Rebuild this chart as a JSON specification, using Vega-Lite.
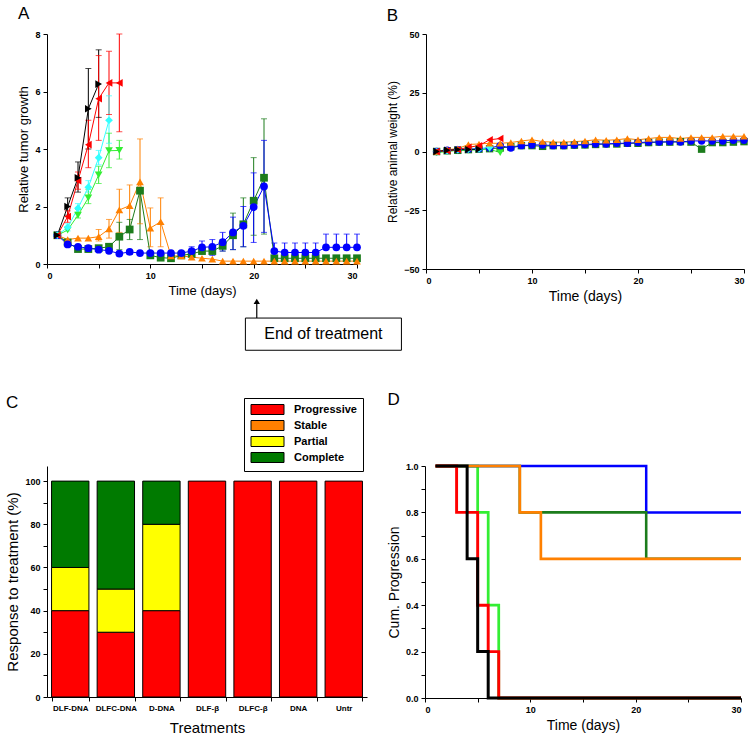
{
"$schema": "https://vega.github.io/schema/vega-lite/v6.json",
"background": "white",
"padding": 5,
"config": {
  "view": {"stroke": null},
  "font": "Liberation Sans",
  "axis": {"domainColor": "black", "tickColor": "black", "labelColor": "black", "titleColor": "black", "grid": false, "tickSize": 4, "labelFont": "Liberation Sans", "labelFontWeight": "bold", "labelFontSize": 9, "titleFont": "Liberation Sans", "titleFontWeight": "normal", "titleFontSize": 13, "labelPadding": 3},
  "title": {"font": "Liberation Sans", "fontSize": 17, "fontWeight": "normal", "anchor": "start", "frame": "bounds", "color": "black"}
},
"datasets": {
  "growth": [
    {"g":"DLF-DNA","day":1,"v":1.0},{"g":"DLF-DNA","day":2,"v":0.75},{"g":"DLF-DNA","day":3,"v":0.52},{"g":"DLF-DNA","day":4,"v":0.52},{"g":"DLF-DNA","day":5,"v":0.55},{"g":"DLF-DNA","day":6,"v":0.6},{"g":"DLF-DNA","day":7,"v":0.95},{"g":"DLF-DNA","day":8,"v":1.2},{"g":"DLF-DNA","day":9,"v":2.55},{"g":"DLF-DNA","day":10,"v":0.3},{"g":"DLF-DNA","day":11,"v":0.22},{"g":"DLF-DNA","day":12,"v":0.2},{"g":"DLF-DNA","day":13,"v":0.3},{"g":"DLF-DNA","day":14,"v":0.35},{"g":"DLF-DNA","day":15,"v":0.45},{"g":"DLF-DNA","day":16,"v":0.45},{"g":"DLF-DNA","day":17,"v":0.63},{"g":"DLF-DNA","day":18,"v":1.0},{"g":"DLF-DNA","day":19,"v":1.38},{"g":"DLF-DNA","day":20,"v":2.2},{"g":"DLF-DNA","day":21,"v":3.0},{"g":"DLF-DNA","day":22,"v":0.2},{"g":"DLF-DNA","day":23,"v":0.2},{"g":"DLF-DNA","day":24,"v":0.2},{"g":"DLF-DNA","day":25,"v":0.2},{"g":"DLF-DNA","day":26,"v":0.2},{"g":"DLF-DNA","day":27,"v":0.2},{"g":"DLF-DNA","day":28,"v":0.2},{"g":"DLF-DNA","day":29,"v":0.2},{"g":"DLF-DNA","day":30,"v":0.2},
    {"g":"D-DNA","day":1,"v":1.0},{"g":"D-DNA","day":2,"v":0.85},{"g":"D-DNA","day":3,"v":0.9},{"g":"D-DNA","day":4,"v":0.9},{"g":"D-DNA","day":5,"v":0.95},{"g":"D-DNA","day":6,"v":1.22},{"g":"D-DNA","day":7,"v":1.88},{"g":"D-DNA","day":8,"v":2.03},{"g":"D-DNA","day":9,"v":2.86},{"g":"D-DNA","day":10,"v":1.25},{"g":"D-DNA","day":11,"v":1.47},{"g":"D-DNA","day":12,"v":0.28},{"g":"D-DNA","day":13,"v":0.28},{"g":"D-DNA","day":14,"v":0.24},{"g":"D-DNA","day":15,"v":0.2},{"g":"D-DNA","day":16,"v":0.17},{"g":"D-DNA","day":17,"v":0.1},{"g":"D-DNA","day":18,"v":0.1},{"g":"D-DNA","day":19,"v":0.1},{"g":"D-DNA","day":20,"v":0.1},{"g":"D-DNA","day":21,"v":0.1},{"g":"D-DNA","day":22,"v":0.1},{"g":"D-DNA","day":23,"v":0.1},{"g":"D-DNA","day":24,"v":0.1},{"g":"D-DNA","day":25,"v":0.1},{"g":"D-DNA","day":26,"v":0.1},{"g":"D-DNA","day":27,"v":0.1},{"g":"D-DNA","day":28,"v":0.1},{"g":"D-DNA","day":29,"v":0.1},{"g":"D-DNA","day":30,"v":0.1},
    {"g":"DLFC-DNA","day":1,"v":1.0},{"g":"DLFC-DNA","day":2,"v":0.68},{"g":"DLFC-DNA","day":3,"v":0.6},{"g":"DLFC-DNA","day":4,"v":0.55},{"g":"DLFC-DNA","day":5,"v":0.5},{"g":"DLFC-DNA","day":6,"v":0.46},{"g":"DLFC-DNA","day":7,"v":0.36},{"g":"DLFC-DNA","day":8,"v":0.42},{"g":"DLFC-DNA","day":9,"v":0.38},{"g":"DLFC-DNA","day":10,"v":0.38},{"g":"DLFC-DNA","day":11,"v":0.38},{"g":"DLFC-DNA","day":12,"v":0.38},{"g":"DLFC-DNA","day":13,"v":0.38},{"g":"DLFC-DNA","day":14,"v":0.45},{"g":"DLFC-DNA","day":15,"v":0.58},{"g":"DLFC-DNA","day":16,"v":0.6},{"g":"DLFC-DNA","day":17,"v":0.76},{"g":"DLFC-DNA","day":18,"v":1.1},{"g":"DLFC-DNA","day":19,"v":1.33},{"g":"DLFC-DNA","day":20,"v":1.98},{"g":"DLFC-DNA","day":21,"v":2.7},{"g":"DLFC-DNA","day":22,"v":0.45},{"g":"DLFC-DNA","day":23,"v":0.4},{"g":"DLFC-DNA","day":24,"v":0.4},{"g":"DLFC-DNA","day":25,"v":0.4},{"g":"DLFC-DNA","day":26,"v":0.4},{"g":"DLFC-DNA","day":27,"v":0.58},{"g":"DLFC-DNA","day":28,"v":0.58},{"g":"DLFC-DNA","day":29,"v":0.58},{"g":"DLFC-DNA","day":30,"v":0.58},
    {"g":"DLF-β","day":1,"v":1.0},{"g":"DLF-β","day":2,"v":1.18},{"g":"DLF-β","day":3,"v":1.7},{"g":"DLF-β","day":4,"v":2.3},{"g":"DLF-β","day":5,"v":3.1},{"g":"DLF-β","day":6,"v":3.94},{"g":"DLF-β","day":7,"v":3.95},
    {"g":"DLFC-β","day":1,"v":1.0},{"g":"DLFC-β","day":2,"v":1.28},{"g":"DLFC-β","day":3,"v":1.94},{"g":"DLFC-β","day":4,"v":2.67},{"g":"DLFC-β","day":5,"v":3.7},{"g":"DLFC-β","day":6,"v":5.0},
    {"g":"DNA","day":1,"v":1.0},{"g":"DNA","day":2,"v":1.65},{"g":"DNA","day":3,"v":2.9},{"g":"DNA","day":4,"v":4.15},{"g":"DNA","day":5,"v":5.75},{"g":"DNA","day":6,"v":6.3},{"g":"DNA","day":7,"v":6.3},
    {"g":"Untr","day":1,"v":1.0},{"g":"Untr","day":2,"v":2.0},{"g":"Untr","day":3,"v":3.0},{"g":"Untr","day":4,"v":5.4},{"g":"Untr","day":5,"v":6.26}
  ],
  "growthErr": [
    {"g":"Untr","day":2,"lo":1.7,"hi":2.3},{"g":"Untr","day":3,"lo":2.5,"hi":3.55},{"g":"Untr","day":4,"lo":4.0,"hi":6.8},{"g":"Untr","day":5,"lo":5.1,"hi":7.45},
    {"g":"DNA","day":2,"lo":1.45,"hi":1.85},{"g":"DNA","day":3,"lo":2.6,"hi":3.2},{"g":"DNA","day":4,"lo":3.35,"hi":5.0},{"g":"DNA","day":5,"lo":4.3,"hi":7.25},{"g":"DNA","day":6,"lo":5.2,"hi":7.4},{"g":"DNA","day":7,"lo":4.6,"hi":8.0},
    {"g":"DLFC-β","day":2,"lo":1.15,"hi":1.4},{"g":"DLFC-β","day":3,"lo":1.75,"hi":2.1},{"g":"DLFC-β","day":4,"lo":2.5,"hi":2.9},{"g":"DLFC-β","day":5,"lo":3.45,"hi":3.95},{"g":"DLFC-β","day":6,"lo":4.2,"hi":5.85},
    {"g":"DLF-β","day":3,"lo":1.6,"hi":1.9},{"g":"DLF-β","day":4,"lo":2.1,"hi":2.6},{"g":"DLF-β","day":5,"lo":2.8,"hi":3.4},{"g":"DLF-β","day":6,"lo":3.35,"hi":4.55},{"g":"DLF-β","day":7,"lo":3.65,"hi":4.3},
    {"g":"D-DNA","day":5,"lo":0.8,"hi":1.2},{"g":"D-DNA","day":6,"lo":0.9,"hi":1.55},{"g":"D-DNA","day":7,"lo":1.1,"hi":2.6},{"g":"D-DNA","day":8,"lo":1.3,"hi":2.75},{"g":"D-DNA","day":9,"lo":1.4,"hi":4.35},{"g":"D-DNA","day":10,"lo":0.6,"hi":1.95},{"g":"D-DNA","day":11,"lo":0.6,"hi":2.3},
    {"g":"DLF-DNA","day":7,"lo":0.5,"hi":1.45},{"g":"DLF-DNA","day":8,"lo":0.85,"hi":1.55},{"g":"DLF-DNA","day":9,"lo":0.85,"hi":2.6},{"g":"DLF-DNA","day":17,"lo":0.45,"hi":0.85},{"g":"DLF-DNA","day":18,"lo":0.5,"hi":1.77},{"g":"DLF-DNA","day":19,"lo":0.6,"hi":2.3},{"g":"DLF-DNA","day":20,"lo":1.0,"hi":3.7},{"g":"DLF-DNA","day":21,"lo":1.04,"hi":5.05},
    {"g":"DLFC-DNA","day":14,"lo":0.3,"hi":0.6},{"g":"DLFC-DNA","day":15,"lo":0.35,"hi":0.8},{"g":"DLFC-DNA","day":16,"lo":0.3,"hi":0.85},{"g":"DLFC-DNA","day":17,"lo":0.45,"hi":1.1},{"g":"DLFC-DNA","day":18,"lo":0.5,"hi":1.63},{"g":"DLFC-DNA","day":19,"lo":0.6,"hi":2.0},{"g":"DLFC-DNA","day":20,"lo":0.75,"hi":3.17},{"g":"DLFC-DNA","day":21,"lo":1.1,"hi":4.3},{"g":"DLFC-DNA","day":22,"lo":0.45,"hi":0.73},{"g":"DLFC-DNA","day":23,"lo":0.4,"hi":0.73},{"g":"DLFC-DNA","day":24,"lo":0.4,"hi":0.73},{"g":"DLFC-DNA","day":25,"lo":0.4,"hi":0.73},{"g":"DLFC-DNA","day":26,"lo":0.4,"hi":0.73},{"g":"DLFC-DNA","day":27,"lo":0.58,"hi":1.04},{"g":"DLFC-DNA","day":28,"lo":0.58,"hi":1.04},{"g":"DLFC-DNA","day":29,"lo":0.58,"hi":1.04},{"g":"DLFC-DNA","day":30,"lo":0.58,"hi":1.04}
  ],
  "weight": [
    {"g":"DLF-DNA","day":1,"v":0},{"g":"DLF-DNA","day":2,"v":0.3},{"g":"DLF-DNA","day":3,"v":0.5},{"g":"DLF-DNA","day":4,"v":0.8},{"g":"DLF-DNA","day":5,"v":1.0},{"g":"DLF-DNA","day":6,"v":1.2},{"g":"DLF-DNA","day":7,"v":1.5},{"g":"DLF-DNA","day":8,"v":2.0},{"g":"DLF-DNA","day":9,"v":2.5},{"g":"DLF-DNA","day":10,"v":2.5},{"g":"DLF-DNA","day":11,"v":2.2},{"g":"DLF-DNA","day":12,"v":2.5},{"g":"DLF-DNA","day":13,"v":2.5},{"g":"DLF-DNA","day":14,"v":2.7},{"g":"DLF-DNA","day":15,"v":2.8},{"g":"DLF-DNA","day":16,"v":3.0},{"g":"DLF-DNA","day":17,"v":3.2},{"g":"DLF-DNA","day":18,"v":3.2},{"g":"DLF-DNA","day":19,"v":3.5},{"g":"DLF-DNA","day":20,"v":3.5},{"g":"DLF-DNA","day":21,"v":3.8},{"g":"DLF-DNA","day":22,"v":4.0},{"g":"DLF-DNA","day":23,"v":4.0},{"g":"DLF-DNA","day":24,"v":4.2},{"g":"DLF-DNA","day":25,"v":4.0},{"g":"DLF-DNA","day":26,"v":1.0},{"g":"DLF-DNA","day":27,"v":3.8},{"g":"DLF-DNA","day":28,"v":3.8},{"g":"DLF-DNA","day":29,"v":4.0},{"g":"DLF-DNA","day":30,"v":4.2},
    {"g":"DLFC-DNA","day":1,"v":0},{"g":"DLFC-DNA","day":2,"v":0.5},{"g":"DLFC-DNA","day":3,"v":0.8},{"g":"DLFC-DNA","day":4,"v":1.0},{"g":"DLFC-DNA","day":5,"v":1.2},{"g":"DLFC-DNA","day":6,"v":1.5},{"g":"DLFC-DNA","day":7,"v":2.5},{"g":"DLFC-DNA","day":8,"v":1.5},{"g":"DLFC-DNA","day":9,"v":2.5},{"g":"DLFC-DNA","day":10,"v":2.8},{"g":"DLFC-DNA","day":11,"v":2.8},{"g":"DLFC-DNA","day":12,"v":2.5},{"g":"DLFC-DNA","day":13,"v":2.5},{"g":"DLFC-DNA","day":14,"v":2.8},{"g":"DLFC-DNA","day":15,"v":3.0},{"g":"DLFC-DNA","day":16,"v":3.2},{"g":"DLFC-DNA","day":17,"v":3.2},{"g":"DLFC-DNA","day":18,"v":3.5},{"g":"DLFC-DNA","day":19,"v":3.5},{"g":"DLFC-DNA","day":20,"v":3.8},{"g":"DLFC-DNA","day":21,"v":4.0},{"g":"DLFC-DNA","day":22,"v":4.0},{"g":"DLFC-DNA","day":23,"v":4.2},{"g":"DLFC-DNA","day":24,"v":4.0},{"g":"DLFC-DNA","day":25,"v":4.5},{"g":"DLFC-DNA","day":26,"v":4.5},{"g":"DLFC-DNA","day":27,"v":4.5},{"g":"DLFC-DNA","day":28,"v":4.5},{"g":"DLFC-DNA","day":29,"v":4.8},{"g":"DLFC-DNA","day":30,"v":4.8},
    {"g":"DLF-β","day":1,"v":-0.5},{"g":"DLF-β","day":2,"v":0},{"g":"DLF-β","day":3,"v":0.5},{"g":"DLF-β","day":4,"v":0.5},{"g":"DLF-β","day":5,"v":0.8},{"g":"DLF-β","day":6,"v":1.0},{"g":"DLF-β","day":7,"v":-0.5},
    {"g":"DLFC-β","day":1,"v":0},{"g":"DLFC-β","day":2,"v":0.3},{"g":"DLFC-β","day":3,"v":0.7},{"g":"DLFC-β","day":4,"v":1.0},{"g":"DLFC-β","day":5,"v":1.0},{"g":"DLFC-β","day":6,"v":1.8},
    {"g":"D-DNA","day":1,"v":0},{"g":"D-DNA","day":2,"v":0.8},{"g":"D-DNA","day":3,"v":1.2},{"g":"D-DNA","day":4,"v":3.0},{"g":"D-DNA","day":5,"v":3.2},{"g":"D-DNA","day":6,"v":3.5},{"g":"D-DNA","day":7,"v":3.5},{"g":"D-DNA","day":8,"v":3.8},{"g":"D-DNA","day":9,"v":4.5},{"g":"D-DNA","day":10,"v":5.0},{"g":"D-DNA","day":11,"v":4.2},{"g":"D-DNA","day":12,"v":4.0},{"g":"D-DNA","day":13,"v":4.0},{"g":"D-DNA","day":14,"v":4.2},{"g":"D-DNA","day":15,"v":4.5},{"g":"D-DNA","day":16,"v":5.0},{"g":"D-DNA","day":17,"v":4.8},{"g":"D-DNA","day":18,"v":5.0},{"g":"D-DNA","day":19,"v":5.5},{"g":"D-DNA","day":20,"v":5.0},{"g":"D-DNA","day":21,"v":5.5},{"g":"D-DNA","day":22,"v":6.0},{"g":"D-DNA","day":23,"v":6.0},{"g":"D-DNA","day":24,"v":5.5},{"g":"D-DNA","day":25,"v":6.0},{"g":"D-DNA","day":26,"v":6.0},{"g":"D-DNA","day":27,"v":6.0},{"g":"D-DNA","day":28,"v":6.5},{"g":"D-DNA","day":29,"v":6.5},{"g":"D-DNA","day":30,"v":6.5},
    {"g":"DNA","day":1,"v":0},{"g":"DNA","day":2,"v":0.3},{"g":"DNA","day":3,"v":0.8},{"g":"DNA","day":4,"v":1.8},{"g":"DNA","day":5,"v":2.5},{"g":"DNA","day":6,"v":5.0},{"g":"DNA","day":7,"v":5.5},
    {"g":"Untr","day":1,"v":0},{"g":"Untr","day":2,"v":0.5},{"g":"Untr","day":3,"v":0.8},{"g":"Untr","day":4,"v":0.8},{"g":"Untr","day":5,"v":1.0}
  ],
  "resp": [
    {"t":"DLF-DNA","s":"Progressive","pct":40,"o":1},{"t":"DLF-DNA","s":"Partial","pct":20,"o":3},{"t":"DLF-DNA","s":"Complete","pct":40,"o":4},
    {"t":"DLFC-DNA","s":"Progressive","pct":30,"o":1},{"t":"DLFC-DNA","s":"Partial","pct":20,"o":3},{"t":"DLFC-DNA","s":"Complete","pct":50,"o":4},
    {"t":"D-DNA","s":"Progressive","pct":40,"o":1},{"t":"D-DNA","s":"Partial","pct":40,"o":3},{"t":"D-DNA","s":"Complete","pct":20,"o":4},
    {"t":"DLF-β","s":"Progressive","pct":100,"o":1},
    {"t":"DLFC-β","s":"Progressive","pct":100,"o":1},
    {"t":"DNA","s":"Progressive","pct":100,"o":1},
    {"t":"Untr","s":"Progressive","pct":100,"o":1}
  ],
  "prog": [
    {"g":"DLF-β","day":1,"p":1.0},{"g":"DLF-β","day":5,"p":0.8},{"g":"DLF-β","day":6,"p":0.4},{"g":"DLF-β","day":7,"p":0.0},{"g":"DLF-β","day":30,"p":0.0},
    {"g":"DLFC-DNA","day":1,"p":1.0},{"g":"DLFC-DNA","day":21,"p":0.8},{"g":"DLFC-DNA","day":30,"p":0.8},
    {"g":"DLF-DNA","day":1,"p":1.0},{"g":"DLF-DNA","day":9,"p":0.8},{"g":"DLF-DNA","day":21,"p":0.6},{"g":"DLF-DNA","day":30,"p":0.6},
    {"g":"D-DNA","day":1,"p":1.0},{"g":"D-DNA","day":9,"p":0.8},{"g":"D-DNA","day":11,"p":0.6},{"g":"D-DNA","day":30,"p":0.6},
    {"g":"DNA","day":1,"p":1.0},{"g":"DNA","day":3,"p":0.8},{"g":"DNA","day":5,"p":0.4},{"g":"DNA","day":6,"p":0.2},{"g":"DNA","day":7,"p":0.0},{"g":"DNA","day":30,"p":0.0},
    {"g":"Untr","day":1,"p":1.0},{"g":"Untr","day":4,"p":0.6},{"g":"Untr","day":5,"p":0.2},{"g":"Untr","day":6,"p":0.0},{"g":"Untr","day":30,"p":0.0}
  ]
},
"spacing": 40,
"resolve": {"legend": {"fill": "independent"}, "scale": {"fill": "independent"}},
"vconcat": [
  {
    "bounds": "flush",
    "spacing": 69,
    "hconcat": [
      {
        "width": 310, "height": 230,
        "title": {"text": "A", "offset": 7},
        "layer": [
          {"data": {"name": "growthErr"}, "mark": {"type": "rule", "strokeWidth": 1},
           "encoding": {
             "x": {"field": "day", "type": "quantitative", "title": "Time (days)", "scale": {"domain": [0, 30], "nice": false}, "axis": {"values": [0,5,10,15,20,25,30], "labelExpr": "datum.value % 10 == 0 ? datum.label : ''"}},
             "y": {"field": "lo", "type": "quantitative", "title": "Relative tumor growth", "scale": {"domain": [0, 8], "nice": false}, "axis": {"values": [0,1,2,3,4,5,6,7,8], "labelExpr": "datum.value % 2 == 0 ? datum.label : ''"}},
             "y2": {"field": "hi"},
             "color": {"field": "g", "type": "nominal", "legend": null, "scale": {"domain": ["Untr","DNA","DLFC-β","DLF-β","D-DNA","DLF-DNA","DLFC-DNA"], "range": ["#000000","#ff0000","#33ffff","#33ee33","#ff8000","#1c7c1c","#0000ff"]}}
           }},
          {"data": {"name": "growthErr"}, "mark": {"type": "tick", "orient": "horizontal", "size": 6, "thickness": 1},
           "encoding": {
             "x": {"field": "day", "type": "quantitative", "title": "Time (days)"},
             "y": {"field": "hi", "type": "quantitative", "title": "Relative tumor growth"},
             "color": {"field": "g", "type": "nominal", "legend": null}
           }},
          {"data": {"name": "growthErr"}, "mark": {"type": "tick", "orient": "horizontal", "size": 6, "thickness": 1},
           "encoding": {
             "x": {"field": "day", "type": "quantitative", "title": "Time (days)"},
             "y": {"field": "lo", "type": "quantitative", "title": "Relative tumor growth"},
             "color": {"field": "g", "type": "nominal", "legend": null}
           }},
          {"data": {"name": "growth"}, "mark": {"type": "line", "strokeWidth": 1},
           "encoding": {
             "x": {"field": "day", "type": "quantitative", "title": "Time (days)"},
             "y": {"field": "v", "type": "quantitative", "title": "Relative tumor growth"},
             "color": {"field": "g", "type": "nominal", "legend": null}
           }},
          {"data": {"name": "growth"}, "mark": {"type": "point", "filled": true, "opacity": 1, "size": 60},
           "encoding": {
             "x": {"field": "day", "type": "quantitative", "title": "Time (days)"},
             "y": {"field": "v", "type": "quantitative", "title": "Relative tumor growth"},
             "color": {"field": "g", "type": "nominal", "legend": null},
             "shape": {"field": "g", "type": "nominal", "legend": null, "scale": {"domain": ["Untr","DNA","DLFC-β","DLF-β","D-DNA","DLF-DNA","DLFC-DNA"], "range": ["triangle-right","triangle-left","diamond","triangle-down","triangle-up","square","circle"]}}
           }},
          {"data": {"values": [{}]}, "mark": {"type": "rect", "fill": "white", "stroke": "black", "strokeWidth": 1},
           "encoding": {"x": {"datum": 19.2, "type": "quantitative"}, "x2": {"datum": 34.3}, "y": {"datum": -1.88, "type": "quantitative"}, "y2": {"datum": -3.0}}},
          {"data": {"values": [{}]}, "mark": {"type": "text", "text": "End of treatment", "fontSize": 16, "font": "Liberation Sans", "color": "black"},
           "encoding": {"x": {"datum": 26.75, "type": "quantitative"}, "y": {"datum": -2.44, "type": "quantitative"}}},
          {"data": {"values": [{}]}, "mark": {"type": "rule", "color": "black", "strokeWidth": 1.2},
           "encoding": {"x": {"datum": 20.3, "type": "quantitative"}, "y": {"datum": -1.88, "type": "quantitative"}, "y2": {"datum": -1.35}}},
          {"data": {"values": [{}]}, "mark": {"type": "point", "shape": "triangle-up", "filled": true, "color": "black", "opacity": 1, "size": 40},
           "encoding": {"x": {"datum": 20.3, "type": "quantitative"}, "y": {"datum": -1.3, "type": "quantitative"}}}
        ]
      },
      {
        "width": 318, "height": 235,
        "title": {"text": "B", "offset": 5},
        "layer": [
          {"data": {"name": "weight"}, "mark": {"type": "line", "strokeWidth": 1},
           "encoding": {
             "x": {"field": "day", "type": "quantitative", "title": "Time (days)", "scale": {"domain": [0, 30], "nice": false}, "axis": {"values": [0,5,10,15,20,25,30], "labelExpr": "datum.value % 10 == 0 ? datum.label : ''", "titleFontSize": 14}},
             "y": {"field": "v", "type": "quantitative", "title": "Relative animal weight (%)", "scale": {"domain": [-50, 50], "nice": false}, "axis": {"values": [-50,-37.5,-25,-12.5,0,12.5,25,37.5,50], "labelExpr": "datum.value % 25 == 0 ? datum.label : ''", "titleFontSize": 12}},
             "color": {"field": "g", "type": "nominal", "legend": null, "scale": {"domain": ["Untr","DNA","DLFC-β","DLF-β","D-DNA","DLF-DNA","DLFC-DNA"], "range": ["#000000","#ff0000","#33ffff","#33ee33","#ff8000","#1c7c1c","#0000ff"]}}
           }},
          {"data": {"name": "weight"}, "mark": {"type": "point", "filled": true, "opacity": 1, "size": 55},
           "encoding": {
             "x": {"field": "day", "type": "quantitative", "title": "Time (days)"},
             "y": {"field": "v", "type": "quantitative", "title": "Relative animal weight (%)"},
             "color": {"field": "g", "type": "nominal", "legend": null},
             "shape": {"field": "g", "type": "nominal", "legend": null, "scale": {"domain": ["Untr","DNA","DLFC-β","DLF-β","D-DNA","DLF-DNA","DLFC-DNA"], "range": ["triangle-right","triangle-left","diamond","triangle-down","triangle-up","square","circle"]}}
           }}
        ]
      }
    ]
  },
  {
    "bounds": "flush",
    "spacing": 58,
    "resolve": {"legend": {"fill": "independent"}, "scale": {"fill": "independent"}},
    "hconcat": [
      {
        "width": 320, "height": 231,
        "title": {"text": "C", "offset": -14},
        "data": {"name": "resp"},
        "mark": {"type": "bar", "stroke": "black", "strokeWidth": 1},
        "encoding": {
          "x": {"field": "t", "type": "nominal", "sort": null, "title": "Treatments", "scale": {"paddingInner": 0.18, "paddingOuter": 0.1}, "axis": {"labelAngle": 0, "labelFontSize": 8, "tickBand": "extent", "titleFontSize": 15, "titlePadding": 8}},
          "y": {"field": "pct", "type": "quantitative", "stack": "zero", "title": "Response to treatment (%)", "scale": {"domain": [0, 107], "nice": false}, "axis": {"values": [0,10,20,30,40,50,60,70,80,90,100], "labelExpr": "datum.value % 20 == 0 ? datum.label : ''", "titleFontSize": 15}},
          "fill": {"field": "s", "type": "nominal", "title": null,
            "scale": {"domain": ["Progressive","Stable","Partial","Complete"], "range": ["#ff0000","#ff8000","#ffff00","#007a00"]},
            "legend": {"orient": "none", "legendX": 197, "legendY": -68, "strokeColor": "black", "padding": 6, "symbolType": "M-3.3,-1H3.3V1H-3.3Z", "symbolSize": 100, "symbolOffset": 12, "labelOffset": 21, "symbolStrokeColor": "black", "symbolStrokeWidth": 1, "labelFontSize": 11, "labelFontWeight": "bold", "labelFont": "Liberation Sans", "labelColor": "black", "rowPadding": 1, "fillColor": "white"}},
          "order": {"field": "o", "type": "quantitative"}
        }
      },
      {
        "width": 316, "height": 232,
        "title": {"text": "D", "offset": 51},
        "data": {"name": "prog"},
        "mark": {"type": "line", "interpolate": "step-after"},
        "encoding": {
          "x": {"field": "day", "type": "quantitative", "title": "Time (days)", "scale": {"domain": [0, 30], "nice": false}, "axis": {"values": [0,5,10,15,20,25,30], "labelExpr": "datum.value % 10 == 0 ? datum.label : ''", "titleFontSize": 14}},
          "y": {"field": "p", "type": "quantitative", "title": "Cum. Progression", "scale": {"domain": [0, 1], "nice": false}, "axis": {"values": [0,0.1,0.2,0.3,0.4,0.5,0.6,0.7,0.8,0.9,1.0], "labelExpr": "round(datum.value*10) % 2 == 0 ? format(datum.value, '.1f') : ''", "titleFontSize": 14}},
          "color": {"field": "g", "type": "nominal", "legend": null, "scale": {"domain": ["Untr","DNA","DLFC-β","DLF-β","D-DNA","DLF-DNA","DLFC-DNA"], "range": ["#000000","#ff0000","#33ffff","#33ee33","#ff8000","#1c7c1c","#0000ff"]}},
          "strokeWidth": {"field": "g", "type": "nominal", "legend": null, "scale": {"domain": ["Untr","DNA","DLFC-β","DLF-β","D-DNA","DLF-DNA","DLFC-DNA"], "range": [3, 2.5, 2, 2.2, 1.6, 2.8, 2.5]}},
          "order": {"field": "day", "type": "quantitative"}
        }
      }
    ]
  }
]
}
